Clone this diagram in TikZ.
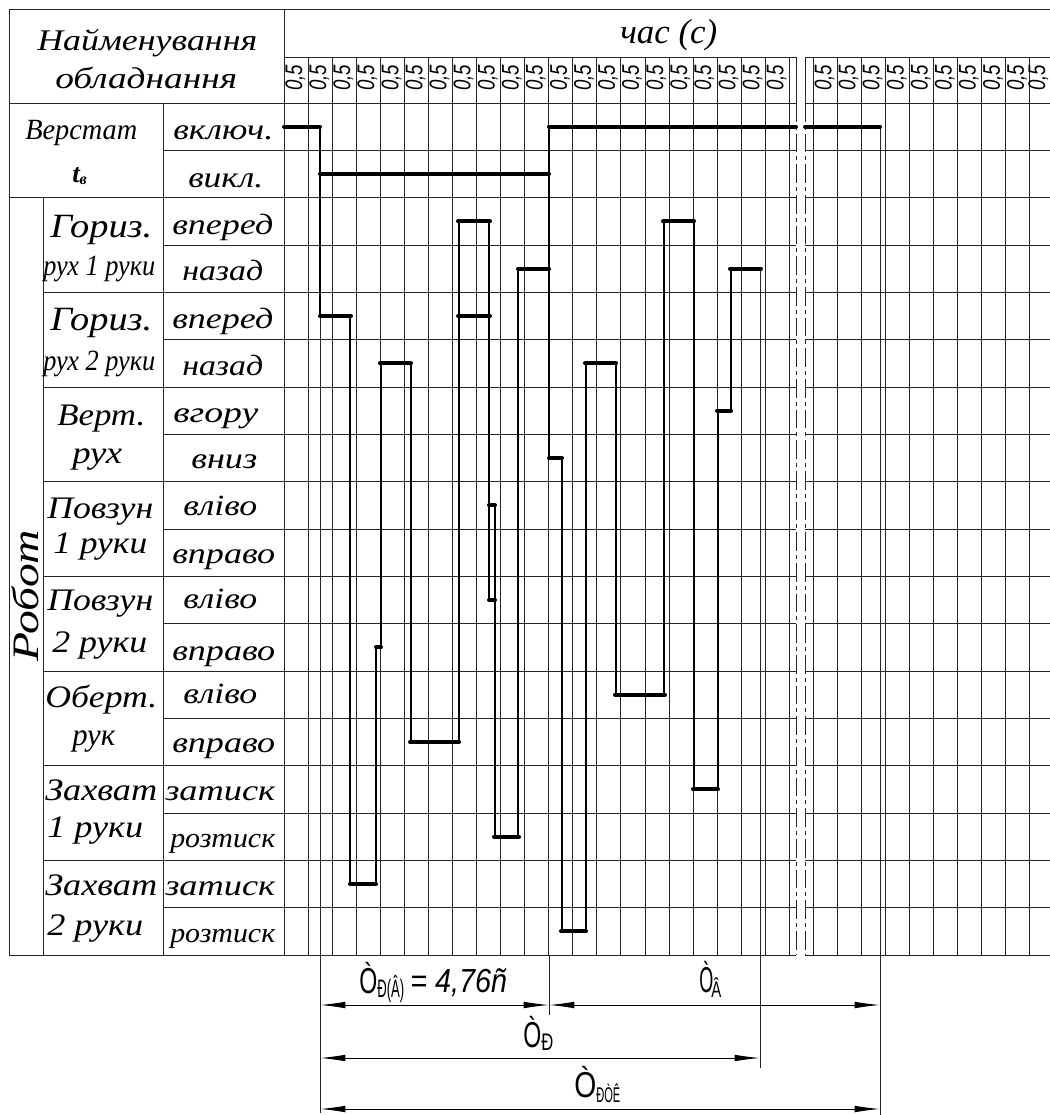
\documentclass[tikz,border=0pt]{standalone}
\usepackage{fontspec}
\usepackage{graphicx}
\setmainfont{Liberation Serif}
\newfontfamily\gost{Liberation Sans}
\usetikzlibrary{arrows.meta}
\newsavebox\hfitbox
\newlength\hfitlen
\newcommand\hfit[2]{\sbox\hfitbox{#2}\setlength\hfitlen{\wd\hfitbox}\pgfmathsetmacro\hfitfac{#1*0.75/\hfitlen}\scalebox{\hfitfac}[1]{\usebox\hfitbox}}
\newcommand\fs[1]{\fontsize{#1}{#1}\selectfont}
\newcommand\lab[6]{\node[lbl] (#1) at (#2,#3) {\hfit{#4}{\fs{#5}\itshape #6}};}
\begin{document}
\begin{tikzpicture}[x=0.75pt,y=-0.75pt,
  grid/.style={line width=0.75pt,black!85},
  brk/.style={line width=0.75pt,black!85,dash pattern=on 14pt off 3pt on 3pt off 3pt},
  sig/.style={line width=3pt,line cap=round},
  sigv/.style={line width=2.1pt},
  dimline/.style={line width=0.75pt,{Latex[length=19pt,width=5pt]}-{Latex[length=19pt,width=5pt]}},
  lbl/.style={inner sep=0pt,anchor=base west}]
\useasboundingbox (0,0) rectangle (1050,1115);
% ---------- frame and left table
\draw[grid] (9,9) -- (1050,9);
\draw[grid] (284,57) -- (796,57) (805,57) -- (1050,57);
\draw[grid] (9,103) -- (796,103) (805,103) -- (1050,103);
\foreach \r in {1,...,17}{
  \pgfmathsetmacro\yy{103+47.333*\r}
  \pgfmathtruncatemacro\odd{mod(\r,2)}
  \ifnum\r=2 \def\xs{9}\else\ifnum\odd=1 \def\xs{163}\else\def\xs{43}\fi\fi
  \draw[grid] (\xs,\yy) -- (796,\yy) (805,\yy) -- (1050,\yy);
}
\draw[grid] (9,955) -- (796,955) (805,955) -- (1050,955);
\draw[grid] (9,9) -- (9,955);
\draw[grid] (43,198) -- (43,955);
\draw[grid] (163,103) -- (163,955);
\draw[grid] (284,9) -- (284,955);
% ---------- time columns
\foreach \k in {1,...,21}{\draw[grid] ({284+24.07*\k},57) -- ({284+24.07*\k},955);}
\draw[grid] (796,57) -- (796,103); \draw[brk] (796,103) -- (796,955);
\draw[grid] (805,57) -- (805,103); \draw[brk] (805,103) -- (805,955);
\foreach \k in {0,...,9}{\draw[grid] ({813.3+24.07*\k},57) -- ({813.3+24.07*\k},955);}
% ---------- column labels 0,5
\foreach \k in {0,...,20}{\node[lbl,rotate=90] (ha\k) at ({284+24.07*\k+18},91) {\hfit{26}{\gost\itshape\fs{18}0,5}};}
\foreach \k in {0,...,8}{\node[lbl,rotate=90] (hb\k) at ({813.3+24.07*\k+18},91) {\hfit{26}{\gost\itshape\fs{18}0,5}};}
\node[lbl,rotate=90] (hb9) at (1045,91) {\hfit{26}{\gost\itshape\fs{18}0,5}};
% ---------- header texts
\lab{t1}{37}{50}{220}{22.5}{Найменування}
\lab{t2}{55}{88}{182}{22.5}{обладнання}
\lab{t3}{620}{43}{97}{26}{час (с)}
\lab{m1}{25}{139}{112}{22}{Верстат}
\node[lbl] (m2) at (72,182) {\fs{20}\bfseries\itshape t\raisebox{-1.5pt}{\fs{12}в}};
\lab{m3}{173}{139}{100}{22}{включ.}
\lab{m4}{188}{187}{75}{22}{викл.}
\lab{g1}{50}{237}{102}{25.5}{Гориз.}
\lab{g1b}{43}{275}{112}{22}{рух 1 руки}
\lab{s1}{172}{234}{101}{22}{вперед}
\lab{s2}{182}{280}{81}{22}{назад}
\lab{g2}{50}{330}{102}{25.5}{Гориз.}
\lab{g2b}{43}{370}{112}{22}{рух 2 руки}
\lab{s3}{172}{328}{101}{22}{вперед}
\lab{s4}{182}{375}{81}{22}{назад}
\lab{g3}{57}{425}{88}{23.5}{Верт.}
\lab{g3b}{72}{463}{50}{23.5}{рух}
\lab{s5}{173}{422}{85}{22}{вгору}
\lab{s6}{191}{468}{66}{22}{вниз}
\lab{g4}{47}{518}{106}{23.5}{Повзун}
\lab{g4b}{53}{553}{94}{23.5}{1 руки}
\lab{s7}{183}{515}{74}{22}{вліво}
\lab{s8}{172}{563}{103}{22}{вправо}
\lab{g5}{47}{610}{106}{23.5}{Повзун}
\lab{g5b}{52}{652}{95}{23.5}{2 руки}
\lab{s9}{183}{608}{74}{22}{вліво}
\lab{s10}{172}{660}{103}{22}{вправо}
\lab{g6}{45}{707}{112}{23.5}{Оберт.}
\lab{g6b}{72}{745}{43}{23.5}{рук}
\lab{s11}{183}{703}{74}{22}{вліво}
\lab{s12}{172}{752}{103}{22}{вправо}
\lab{g7}{45}{800}{112}{23.5}{Захват}
\lab{g7b}{47}{837}{96}{23.5}{1 руки}
\lab{s13}{165}{800}{110}{22}{затиск}
\lab{s14}{170}{847}{105}{21}{розтиск}
\lab{g8}{45}{895}{112}{23.5}{Захват}
\lab{g8b}{47}{935}{96}{23.5}{2 руки}
\lab{s15}{165}{895}{110}{22}{затиск}
\lab{s16}{170}{942}{105}{21}{розтиск}
\node[lbl,rotate=90] (robot) at (38,662) {\hfit{132}{\fs{28}\itshape Робот}};
% ---------- extension lines
\draw[grid] (320,127) -- (320,1113);
\draw[grid] (549,955) -- (549,1015);
\draw[grid] (760,269) -- (760,1068);
\draw[grid] (880,127) -- (880,1115);
% ---------- signal: verticals
\foreach \x/\ra/\rb in {320/0/4,350/4/16,376/16/11,381/11/5,411/5/13,459/13/2,489/2/10,495/8/15,518/15/3,549/0/7,562/7/17,586/17/5,616/5/12,664/12/2,694/2/14,718/14/6,731/6/3}{
  \draw[sigv] (\x,{126.7+47.333*\ra}) -- (\x,{126.7+47.333*\rb});}
% ---------- signal: horizontals
\foreach \r/\xa/\xb in {0/284/320,1/320/549,0/549/796,0/805/880,4/320/351,16/350/376,11/376/381,5/380/411,13/410/459,2/458/490,4/458/490,8/489/495,10/489/495,15/494/519,3/518/549,7/549/562,17/561/586,5/585/616,12/615/665,2/663/694,14/693/718,6/717/731,3/730/761}{
  \draw[sig] (\xa,{126.7+47.333*\r}) -- (\xb,{126.7+47.333*\r});}
% ---------- dimensions
\coordinate (a1) at (320,1005); \coordinate (a2) at (549,1005); \coordinate (a3) at (880,1005);
\coordinate (b1) at (320,1058); \coordinate (b2) at (760,1058);
\coordinate (c1) at (320,1109); \coordinate (c2) at (880,1109);
\draw[dimline] (a1) -- (a2);
\draw[dimline] (a2) -- (a3);
\draw[dimline] (b1) -- (b2);
\draw[dimline] (c1) -- (c2);
\node[lbl] (d1a) at (359,993) {\hfit{18}{\gost\fs{27}Ò}};
\node[lbl] (d1b) at (377,997) {\hfit{27}{\gost\fs{19}Ð(Â)}};
\node[lbl] (d1c) at (410,992) {\hfit{97}{\gost\itshape\fs{25}= 4,76ñ}};
\node[lbl] (d2a) at (699,992) {\hfit{14}{\gost\fs{27}Ò}};
\node[lbl] (d2b) at (711,997) {\hfit{10}{\gost\fs{17}Â}};
\node[lbl] (d3a) at (523,1047) {\hfit{18}{\gost\fs{27}Ò}};
\node[lbl] (d3b) at (541,1050) {\hfit{12}{\gost\fs{18}Ð}};
\node[lbl] (d4a) at (574,1097) {\hfit{22}{\gost\fs{27}Ò}};
\node[lbl] (d4b) at (596,1102) {\hfit{24}{\gost\fs{16}ÐÒÊ}};
\end{tikzpicture}
\end{document}
